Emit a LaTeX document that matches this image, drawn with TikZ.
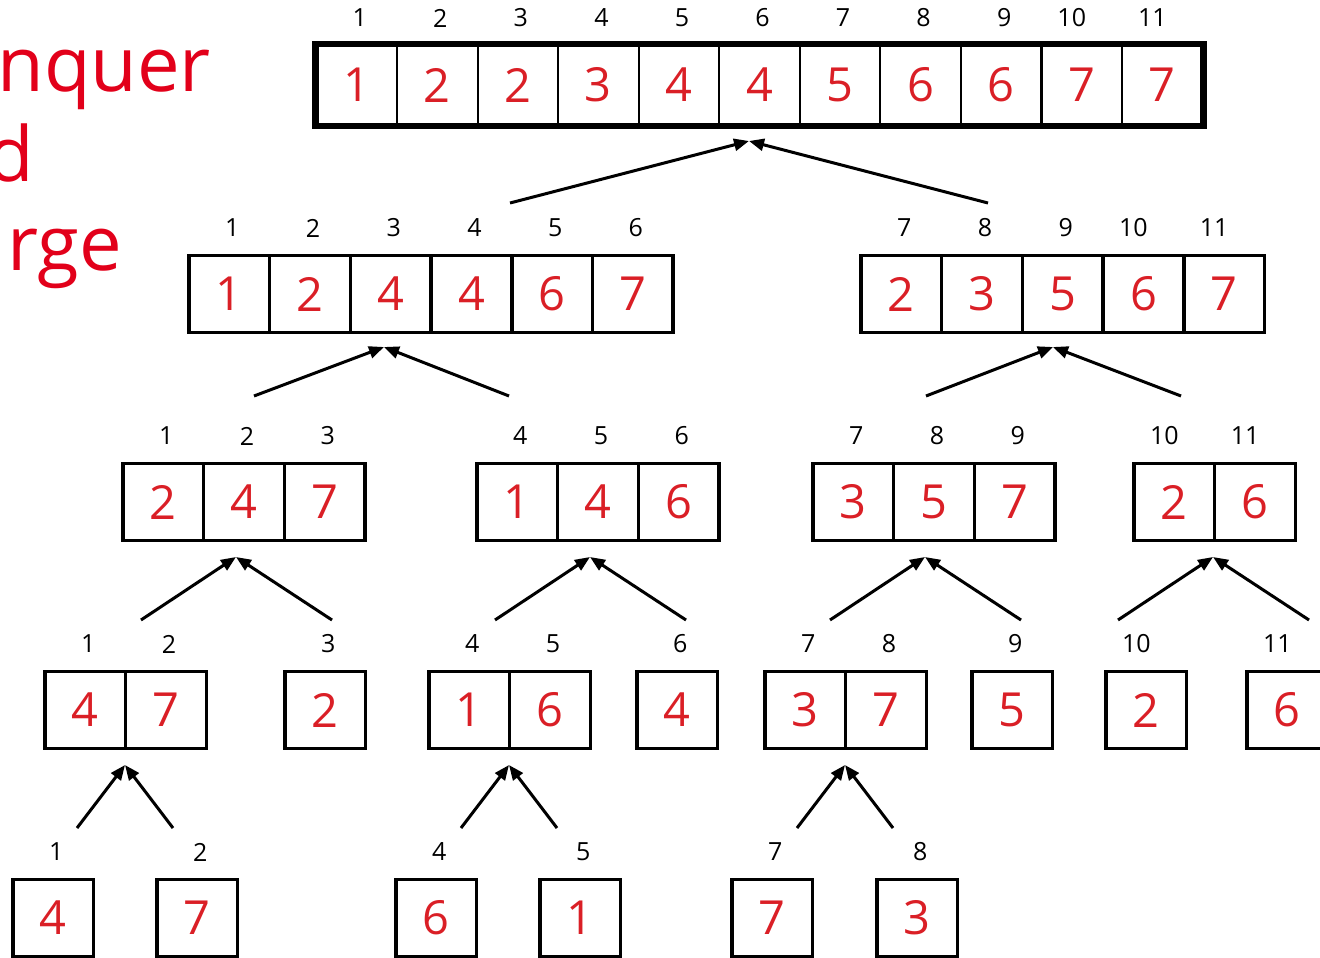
\documentclass[tikz,border=0pt]{standalone}
\usepackage{fontspec}
\setmainfont{Open Sans}
\usetikzlibrary{arrows.meta}
\definecolor{digred}{RGB}{218,31,38}
\definecolor{titred}{RGB}{226,0,26}
\newcommand\mkarr[5]{%
  \foreach \v/\l [count=\i] in {#5} {%
    \pgfmathsetmacro\off{\l>9 ? -10 : 3}%
    \node[#4] (#1\i) at ({#2+(\i-0.5)*80.7},{#3+39}) {\v};
    \node[idx] (#1l\i) at ({#2+(\i-0.5)*80.7+\off},{#3-27}) {\l};
  }}
\begin{document}
\begin{tikzpicture}[x=0.5pt,y=-0.5pt,
  cell/.style={draw, line width=1.75pt, minimum width=40.35pt, minimum height=38.5pt,
    inner sep=0pt, text=digred, font=\fontsize{23.5}{28}\selectfont},
  topcell/.style={cell, line width=1pt, minimum height=40pt},
  idx/.style={font=\fontsize{12.5}{14}\selectfont, inner sep=0pt},
  arr/.style={line width=1.5pt, -{Triangle[length=7.5pt,width=6pt]}},
  titletext/.style={text=titred, font=\fontsize{38}{44}\selectfont, anchor=base west, inner sep=0pt}]
\useasboundingbox (0,0) rectangle (1320,957);
\clip (0,0) rectangle (1320,957);
% title fragments
\node[titletext] (t1) at (-3,92) {nquer};
\node[titletext] (t2) at (-13,182) {d};
\node[titletext] (t3) at (7,270) {rge};
% level 1
\foreach \v/\l [count=\i] in {1/1,2/2,2/3,3/4,4/5,4/6,5/7,6/8,6/9,7/10,7/11} {%
  \pgfmathsetmacro\off{\l>9 ? -10 : 3}%
  \node[topcell] (T\i) at ({316.5+(\i-0.5)*80.55},85) {\v};
  \node[idx] (Tl\i) at ({316.5+(\i-0.5)*80.55+\off},18) {\l};
}
\draw[line width=3.2pt] (T1.north west) rectangle (T11.south east);
% level 2
\mkarr{A}{189}{255}{cell}{1/1,2/2,4/3,4/4,6/5,7/6}
\mkarr{B}{861}{255}{cell}{2/7,3/8,5/9,6/10,7/11}
% level 3
\mkarr{C}{123}{463}{cell}{2/1,4/2,7/3}
\mkarr{D}{477}{463}{cell}{1/4,4/5,6/6}
\mkarr{E}{813}{463}{cell}{3/7,5/8,7/9}
\mkarr{F}{1134}{463}{cell}{2/10,6/11}
% level 4
\mkarr{G}{45}{671}{cell}{4/1,7/2}
\mkarr{H}{285}{671}{cell}{2/3}
\mkarr{I}{429}{671}{cell}{1/4,6/5}
\mkarr{J}{637}{671}{cell}{4/6}
\mkarr{K}{765}{671}{cell}{3/7,7/8}
\mkarr{L}{972}{671}{cell}{5/9}
\mkarr{M}{1106}{671}{cell}{2/10}
\mkarr{N}{1247}{671}{cell}{6/11}
% level 5
\mkarr{P}{13}{879}{cell}{4/1}
\mkarr{Q}{157}{879}{cell}{7/2}
\mkarr{R}{396}{879}{cell}{6/4}
\mkarr{S}{540}{879}{cell}{1/5}
\mkarr{U}{732}{879}{cell}{7/7}
\mkarr{V}{877}{879}{cell}{3/8}
% arrow ends, level 1
\coordinate (tipT) at (749,141);
\coordinate (startAT) at (510,203);
\coordinate (startBT) at (988,203);
% level 2
\coordinate (tipA) at (384,347);
\coordinate (startCA) at (254,396);
\coordinate (startDA) at (509,396);
\coordinate (tipB) at (1053,347);
\coordinate (startEB) at (926,396);
\coordinate (startFB) at (1181,396);
% levels 3 and 4
\foreach \n/\x in {C/236,D/590,E/925,F/1213} {
  \coordinate (tip\n) at (\x,557);
  \coordinate (lo\n left) at (\x-95,620);
  \coordinate (lo\n right) at (\x+96,620);
}
\foreach \n/\x in {G/125,I/509,K/845} {
  \coordinate (tip\n) at (\x,765);
  \coordinate (lo\n left) at (\x-48,828);
  \coordinate (lo\n right) at (\x+48,828);
}
% arrows
\draw[arr] (startAT) -- (tipT);
\draw[arr] (startBT) -- (tipT);
\draw[arr] (startCA) -- (tipA);
\draw[arr] (startDA) -- (tipA);
\draw[arr] (startEB) -- (tipB);
\draw[arr] (startFB) -- (tipB);
\foreach \n in {C,D,E,F,G,I,K} {
  \draw[arr] (lo\n left) -- (tip\n);
  \draw[arr] (lo\n right) -- (tip\n);
}
\end{tikzpicture}
\end{document}
